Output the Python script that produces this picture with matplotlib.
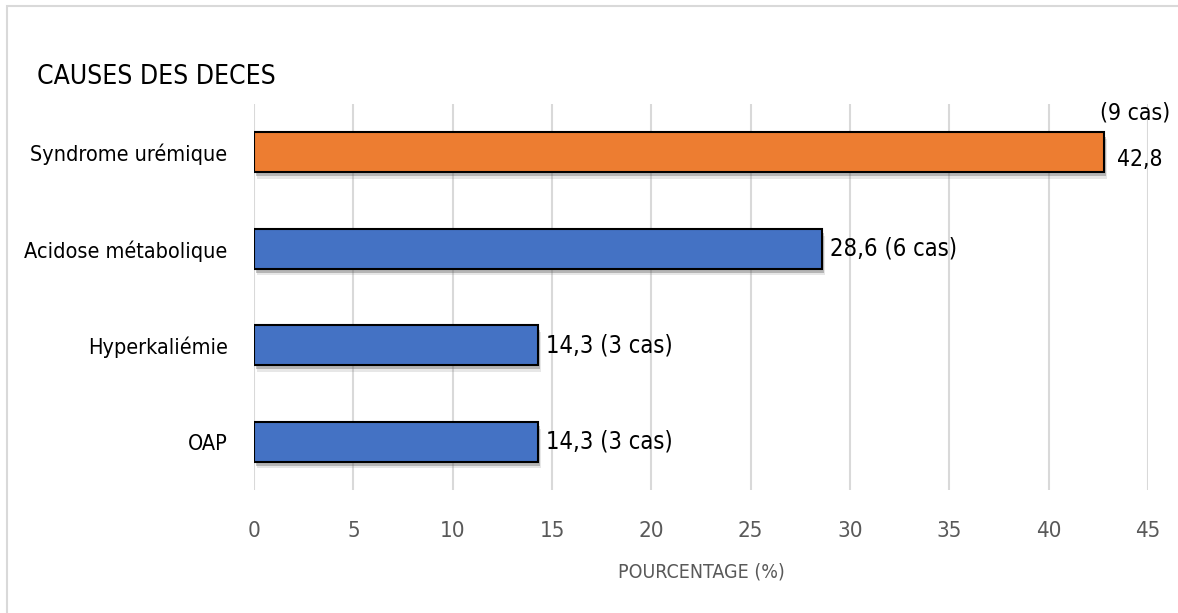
import matplotlib.pyplot as plt
import matplotlib.patheffects as pe
from matplotlib.patches import Rectangle

# Death causes (percent of deaths and number of cases)
causes = ['OAP', 'Hyperkaliémie', 'Acidose métabolique', 'Syndrome urémique']
percent = [14.3, 14.3, 28.6, 42.8]
cases = [3, 3, 6, 9]
colors = ['#4472C4', '#4472C4', '#4472C4', '#ED7D31']
xticks = [0, 5, 10, 15, 20, 25, 30, 35, 40, 45]

plt.rcParams['font.family'] = ['DejaVu Sans']
plt.rcParams['font.stretch'] = 'condensed'

fig = plt.figure(figsize=(11.78, 6.13), dpi=100)
fig.patch.set_facecolor('white')

# light frame round the chart area
fig.patches.append(Rectangle((7 / 1178, -0.1), 1.2, 1 - 6 / 613 + 0.1,
                             transform=fig.transFigure, fill=False,
                             edgecolor='#d9d9d9', linewidth=1.5))

ax = fig.add_axes([254 / 1178, 1 - 490 / 613, 894 / 1178, 386 / 613])

# soft drop shadow under each bar
shadow = [pe.SimplePatchShadow(offset=(2, -5), shadow_rgbFace='#7f7f7f', alpha=0.18),
          pe.SimplePatchShadow(offset=(1.5, -3), shadow_rgbFace='#595959', alpha=0.35),
          pe.Normal()]
ypos = range(len(causes))
bars = ax.barh(ypos, percent, height=0.41, color=colors,
               edgecolor='black', linewidth=1.5, zorder=3)
for b in bars:
    b.set_path_effects(shadow)

ax.set_xlim(0, 45)
ax.set_ylim(-0.5, len(causes) - 0.5)
ax.set_xticks(xticks)
ax.set_xticklabels([str(t) for t in xticks])
ax.set_yticks(list(ypos))
ax.set_yticklabels(causes, fontsize=15.5, color='black')
ax.tick_params(axis='x', length=0, pad=22, labelsize=16, labelcolor='#595959')
ax.tick_params(axis='y', length=0, pad=19)
ax.grid(axis='x', color='#d9d9d9', linewidth=1.5, zorder=0)
for s in ax.spines.values():
    s.set_visible(False)

ax.set_xlabel('POURCENTAGE (%)', fontsize=14, color='#595959', labelpad=16)

# value labels
for i, (p, c) in enumerate(zip(percent, cases)):
    val = f'{p:.1f}'.replace('.', ',')
    if p > 40:
        ax.text(p + 0.65, i - 0.08, val, va='center', ha='left', fontsize=16.5)
        ax.text(p - 0.2, i + 0.41, f'({c} cas)', va='center', ha='left', fontsize=16.5)
    else:
        ax.text(p + 0.4, i, f'{val} ({c} cas)', va='center', ha='left', fontsize=17)

fig.text(37 / 1178, 1 - 77 / 613, 'CAUSES DES DECES', fontsize=19,
         va='center', ha='left', color='black')

fig.savefig('out.png', dpi=100)
